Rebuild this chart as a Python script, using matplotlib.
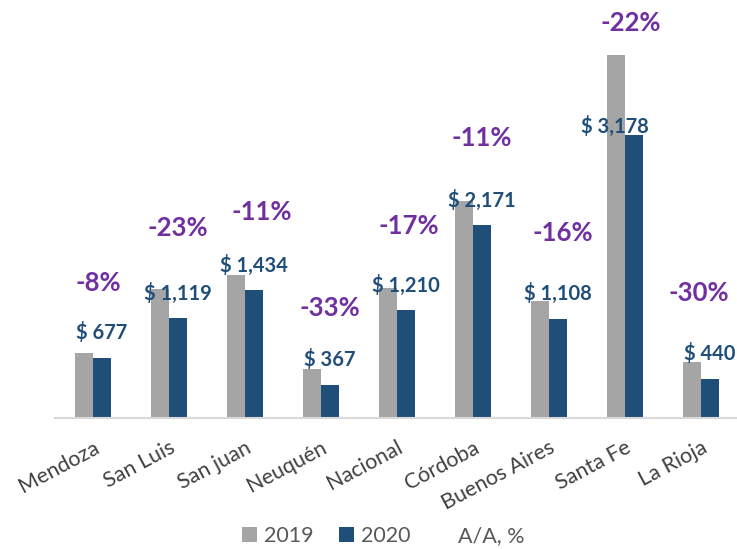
import numpy as np
import matplotlib.pyplot as plt

# datos
provincias = ['Mendoza', 'San Luis', 'San juan', 'Neuquén', 'Nacional',
              'Córdoba', 'Buenos Aires', 'Santa Fe', 'La Rioja']
v2019 = [736, 1453, 1611, 548, 1458, 2439, 1319, 4074, 629]
v2020 = [677, 1119, 1434, 367, 1210, 2171, 1108, 3178, 440]
var_aa = [-8, -23, -11, -33, -17, -11, -16, -22, -30]

# posiciones de etiquetas (puestas a mano como en el original)
lab_val_y = [966, 1404, 1719, 652, 1494, 2449, 1404, 3281, 730]
lab_val_dx = [0.11, 0.12, 0.12, 0.12, 0.12, 0.12, 0.12, -0.13, 0.12]
lab_pct_y = [1517, 2140, 2320, 1236, 2157, 3146, 2079, 4438, 1404]
lab_pct_dx = [0.07, 0.12, 0.22, 0.12, 0.16, 0.12, 0.18, 0.07, -0.03]

plt.rcParams['font.family'] = ['Lato', 'DejaVu Sans']

fig = plt.figure(figsize=(7.37, 5.49), dpi=100)
ax = fig.add_axes([55/737, 131/549, 684/737, 418/549])

x = np.arange(len(provincias))
w = 0.237
gris = '#A5A5A5'
azul = '#1F4E79'
b1 = ax.bar(x - w/2, v2019, w, color=gris, label='2019')
b2 = ax.bar(x + w/2, v2020, w, color=azul, label='2020')
l3, = ax.plot([], [], color='none', label='A/A, %')

for i in range(len(x)):
    ax.text(x[i] + lab_val_dx[i], lab_val_y[i], f'$ {v2020[i]:,}',
            ha='center', va='center', fontsize=14.5, fontweight='bold',
            color=azul)
    ax.text(x[i] + lab_pct_dx[i], lab_pct_y[i], f'{var_aa[i]}%',
            ha='center', va='center', fontsize=18.5, fontweight='bold',
            color='#7030A0')

ax.set_xlim(-0.5, 8.5)
ax.set_ylim(0, 4697)
ax.set_yticks([])
ax.set_xticks(x)
ax.set_xticklabels(provincias, rotation=28, ha='right',
                   rotation_mode='anchor', fontsize=15.5, color='#404040')
ax.tick_params(axis='x', length=0, pad=14)
for s in ['top', 'right', 'left']:
    ax.spines[s].set_visible(False)
ax.spines['bottom'].set_color('#D9D9D9')
ax.spines['bottom'].set_linewidth(1.5)

fig.legend([b1, b2, l3], ['2019', '2020', 'A/A, %'], loc='lower center',
           bbox_to_anchor=(0.52, -0.03), ncol=3,
           frameon=False, fontsize=15.5, handlelength=0.7, handleheight=0.7,
           handletextpad=0.3, columnspacing=1.2, labelcolor='#595959')

fig.savefig('out.png', dpi=100)
